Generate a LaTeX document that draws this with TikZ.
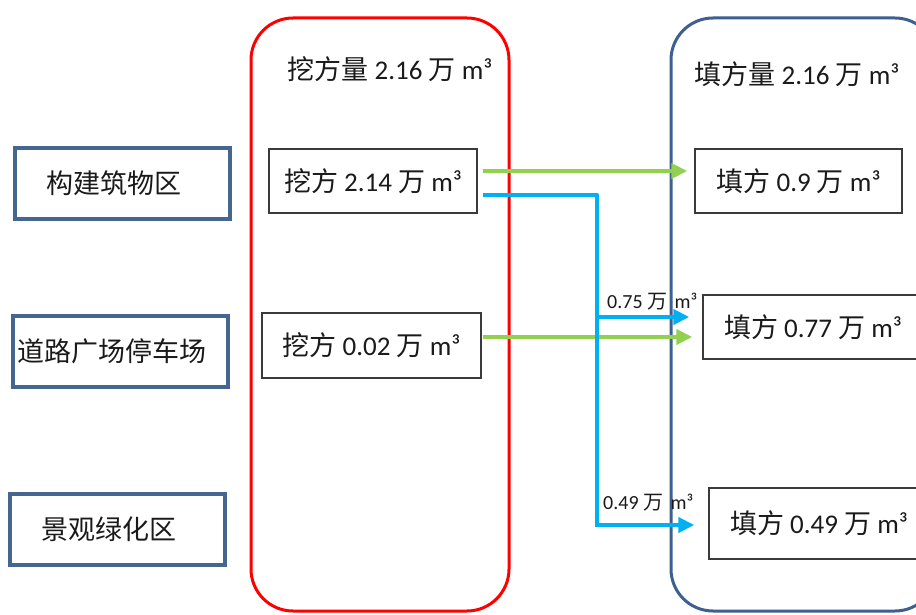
\documentclass[tikz,border=0pt]{standalone}
\usepackage{fontspec}
\setmainfont{Carlito}
\newfontfamily\cjk{Noto Sans CJK SC}
\usetikzlibrary{arrows.meta,calc}

\definecolor{zoneblue}{HTML}{44668F}
\definecolor{fillblue}{HTML}{3E6090}
\definecolor{boxgray}{HTML}{3A3A3A}
\definecolor{flowgreen}{HTML}{92D050}
\definecolor{flowcyan}{HTML}{00B0F0}
\definecolor{ink}{HTML}{1A1A1A}

\newcommand{\zh}[1]{{\cjk #1}}
\newcommand{\bigtext}{\fontsize{27}{31}\selectfont}
\newcommand{\smalltext}{\fontsize{20}{24}\selectfont}

\tikzset{
  zone/.style={draw=zoneblue, line width=4pt, minimum width=215pt,
    minimum height=71pt, inner sep=0pt, text=ink, font=\bigtext,
    execute at begin node={\hspace*{-16pt}}},
  volbox/.style={draw=boxgray, line width=1.4pt, minimum height=64pt,
    inner sep=0pt, text=ink, font=\bigtext},
  container/.style={line width=3pt, rounded corners=42pt, inner sep=0pt},
  title/.style={text=ink, font=\bigtext, inner sep=0pt},
  amount/.style={text=ink, font=\smalltext, inner sep=0pt, anchor=base west},
  flow/.style={line width=4.5pt, -{Triangle[length=16pt,width=15pt]}},
  trunk/.style={line width=4.5pt, line join=round, draw=flowcyan}
}

\begin{document}
\begin{tikzpicture}[x=1pt,y=-1pt]
  \useasboundingbox (0,0) rectangle (916,615);
  \fill[white] (0,0) rectangle (916,615);
  \clip (0,0) rectangle (916,615);

  % excavation and fill groups
  \node[container, draw=red, minimum width=258pt, minimum height=593pt]
    (cut) at (380,314.5) {};
  \node[container, draw=fillblue, minimum width=266pt, minimum height=593pt]
    (fill) at (804,314.5) {};
  \node[title] (cuttitle) at (390,69) {\zh{挖方量} 2.16 \zh{万} m³};
  \node[title] (filltitle) at (797,74) {\zh{填方量} 2.16 \zh{万} m³};

  % project zones
  \node[zone] (z1) at (122,183.5) {\zh{构建筑物区}};
  \node[zone] (z2) at (120,351) {\zh{道路广场停车场}};
  \node[zone] (z3) at (117,529) {\zh{景观绿化区}};

  % excavation volumes
  \node[volbox, minimum width=208pt] (c1) at (373,181) {\zh{挖方} 2.14 \zh{万} m³};
  \node[volbox, minimum width=219pt, minimum height=65pt] (c2) at (371.5,345.5) {\zh{挖方} 0.02 \zh{万} m³};

  % fill volumes
  \node[volbox, minimum width=207pt] (f1) at (798.5,181) {\zh{填方} 0.9 \zh{万} m³};
  \node[volbox, minimum width=220pt] (f2) at (813,327) {\zh{填方} 0.77 \zh{万} m³};
  \node[volbox, minimum width=220pt, minimum height=71pt] (f3) at (819,523.5) {\zh{填方} 0.49 \zh{万} m³};

  % direct transfers
  \draw[flow, draw=flowgreen, fill=flowgreen]
    ([xshift=5pt,yshift=10pt]c1.east) -- ([xshift=-7pt,yshift=10pt]f1.west);
  \path ([xshift=1pt,yshift=8.5pt]c2.east) coordinate (g2s);
  \draw[flow, draw=flowgreen, fill=flowgreen]
    (g2s) -- ([xshift=-10pt]f2.west |- g2s);

  % split transfer from the building zone
  \coordinate (bx) at (597,0);
  \path ([xshift=5pt,yshift=-14pt]c1.east) coordinate (bs);
  \path ([xshift=-13pt,yshift=10pt]f2.west) coordinate (bt2);
  \path ([xshift=-14pt,yshift=-1.5pt]f3.west) coordinate (bt3);
  \draw[trunk] (bs) -- (bs -| bx) -- (bx |- bt3) -- ([xshift=-10pt]bt3);
  \draw[flow, draw=flowcyan, fill=flowcyan] ([xshift=-2pt]bx |- bt3) -- (bt3);
  \draw[flow, draw=flowcyan, fill=flowcyan] (bx |- bt2) -- (bt2);

  \node[amount] (a2) at (607,308) {0.75 \zh{万}\hspace{3pt} m³};
  \node[amount] (a3) at (603,509) {0.49 \zh{万}\hspace{3pt} m³};
\end{tikzpicture}
\end{document}
